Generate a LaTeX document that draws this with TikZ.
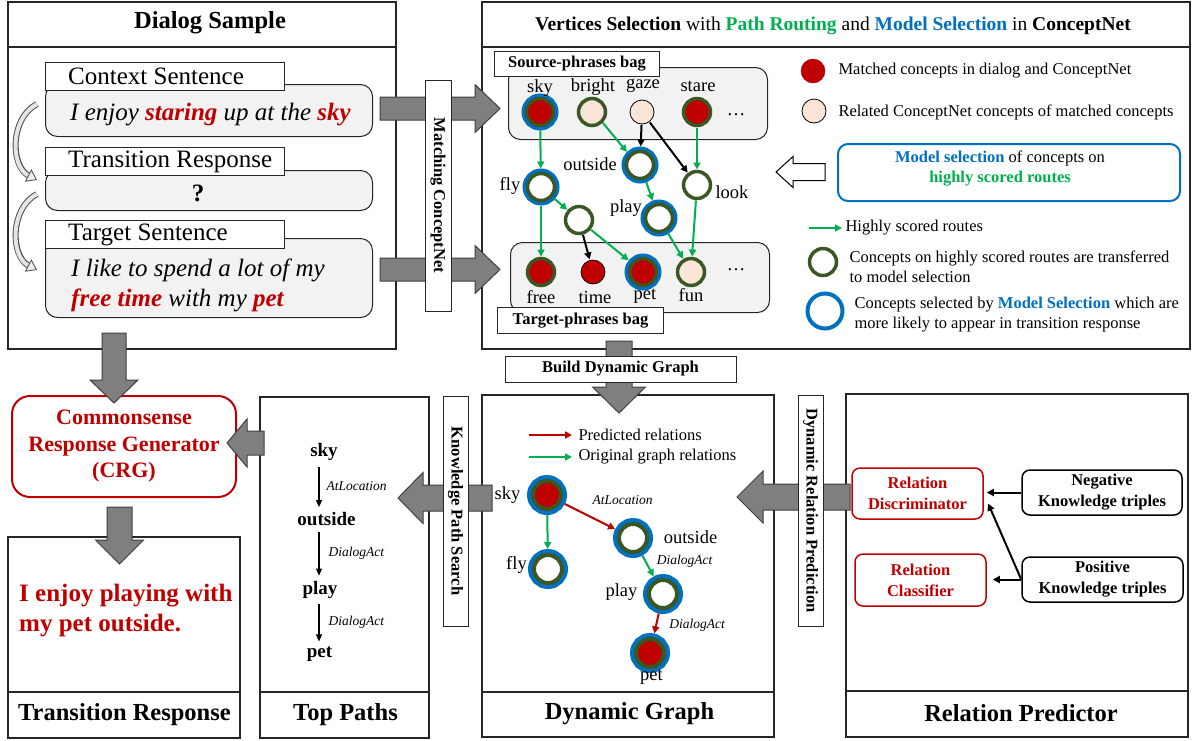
\documentclass[tikz,border=0pt]{standalone}
\usepackage{fontspec}
\setmainfont{Liberation Serif}
\usetikzlibrary{positioning, arrows.meta, calc}

\definecolor{cred}{HTML}{C00000}
\definecolor{cgreen}{HTML}{00B050}
\definecolor{cblue}{HTML}{0070C0}
\definecolor{cdkgreen}{HTML}{3A5724}
\definecolor{cpeach}{HTML}{FBE5D6}
\definecolor{cbag}{HTML}{F2F2F2}
\definecolor{cgrayarr}{HTML}{7F7F7F}
\definecolor{cgrayedge}{HTML}{404040}

\tikzstyle{panel} = [draw=black!85, line width=1.2pt]
\tikzstyle{ptitle} = [font=\fontsize{24.5}{28}\selectfont\bfseries]
\tikzstyle{bigtext} = [font=\fontsize{25}{30}\selectfont]
\tikzstyle{smalltext} = [font=\fontsize{16.5}{20}\selectfont]
\tikzstyle{smallb} = [font=\fontsize{16.5}{21}\selectfont\bfseries]
\tikzstyle{nlabel} = [font=\fontsize{18.5}{22}\selectfont, inner sep=1pt]
\tikzstyle{rellbl} = [font=\fontsize{13.5}{16}\selectfont\itshape, inner sep=1pt]
\tikzstyle{lblbox} = [rectangle, draw=black!85, line width=1pt, fill=white, minimum width=239pt, minimum height=28pt, inner sep=0pt]
\tikzstyle{lbltext} = [anchor=west, xshift=23pt, bigtext, inner sep=0pt]
\tikzstyle{sentbox} = [rectangle, draw=black!85, line width=1pt, fill=cbag, rounded corners=12pt, minimum width=327pt, inner sep=0pt]
\tikzstyle{bagbox} = [rectangle, draw=black!85, line width=1pt, fill=cbag, rounded corners=12pt, inner sep=0pt]
\tikzstyle{bagtitle} = [rectangle, draw=black!85, line width=1pt, fill=white, smallb, inner sep=0pt]
\tikzstyle{vlabel} = [rectangle, draw=black!85, fill=white, line width=1pt, rotate=-90, minimum height=25pt, inner sep=0pt, smallb]
\tikzstyle{blockarr} = [fill=cgrayarr, draw=cgrayedge, line width=1pt]
\tikzstyle{hollowarr} = [fill=white, draw=black, line width=1pt]
\tikzstyle{gring} = [circle, draw=cdkgreen, line width=3.5pt, minimum size=27pt, inner sep=0pt, outer sep=2pt, fill=white]
\tikzstyle{bring} = [gring, preaction={draw=cblue, line width=10pt}, outer sep=5pt]
\tikzstyle{dgring} = [circle, draw=cdkgreen, line width=4pt, minimum size=28pt, inner sep=0pt, fill=white, preaction={draw=cblue, line width=12pt}, outer sep=6pt]
\tikzstyle{matched} = [circle, fill=cred, draw=black, line width=0.7pt, minimum size=24pt, inner sep=0pt, outer sep=1pt]
\tikzstyle{related} = [circle, fill=cpeach, draw=black, line width=0.8pt, minimum size=24pt, inner sep=0pt, outer sep=1pt]
\tikzstyle{garrow} = [draw=cgreen, line width=2pt, -{Triangle[length=7pt,width=7pt]}]
\tikzstyle{karrow} = [draw=black, line width=2pt, -{Triangle[length=7pt,width=7pt]}]
\tikzstyle{rarrow} = [draw=cred, line width=2pt, -{Triangle[length=7pt,width=7pt]}]
\tikzstyle{tparrow} = [draw=black, line width=1.3pt, -{Triangle[length=7pt,width=6pt]}, shorten <=4pt, shorten >=3pt]
\tikzstyle{redbox} = [rectangle, rounded corners=8pt, draw=cred, line width=1.5pt, text=cred, align=center, smallb]
\tikzstyle{kbox} = [rectangle, rounded corners=8pt, draw=black, line width=1.5pt, align=center, smallb]
\tikzstyle{curvout} = [line width=6pt, draw=gray!60!black, shorten >=9pt]
\tikzstyle{curvin} = [line width=4pt, draw=gray!20, -{Triangle[length=10pt,width=14pt,fill=gray!15,color=gray!60!black,line width=0.8pt]}]

\newcommand{\blockarrow}[6][blockarr]{%
  \path ($(#3)!#6!(#2)$) coordinate (ba-h);
  \draw [#1] ($(#2)!#4!90:(#3)$) -- ($(ba-h)!#4!90:(#3)$) -- ($(ba-h)!#5!90:(#3)$) -- (#3)
    -- ($(ba-h)!#5!-90:(#3)$) -- ($(ba-h)!#4!-90:(#3)$) -- ($(#2)!#4!-90:(#3)$) -- cycle;
}

\begin{document}
\begin{tikzpicture}[x=1pt, y=-1pt]
\useasboundingbox (0,0) rectangle (1194,740);
\fill [white] (0,0) rectangle (1194,740);

\draw [panel] (8,2) rectangle (396,349);
\draw [panel] (8,47) -- (396,47);
\node (dlgtitle) [ptitle] at (210,23) {Dialog Sample};

\draw [panel] (482,2) rectangle (1190,349);
\draw [panel] (482,47) -- (1190,47);
\node (vstitle) [font=\fontsize{19.5}{23}\selectfont] at (833,26) {\textbf{Vertices Selection} with \textbf{\textcolor{cgreen}{Path Routing}} and \textbf{\textcolor{cblue}{Model Selection}} in \textbf{ConceptNet}};

\draw [panel] (8,537) rectangle (240,738);
\draw [panel] (8,692) -- (240,692);
\node (trtitle) [ptitle] at (124.5,715) {Transition Response};

\draw [panel] (260,397) rectangle (429,738);
\draw [panel] (260,692) -- (429,692);
\node (tptitle) [ptitle] at (345.5,715) {Top Paths};

\draw [panel] (482,395) rectangle (774,737);
\draw [panel] (482,692) -- (774,692);
\node (dgtitle) [ptitle] at (629.5,714) {Dynamic Graph};

\draw [panel] (846,394) rectangle (1188,737);
\draw [panel] (846,691) -- (1188,691);
\node (rptitle) [ptitle] at (1021,713) {Relation Predictor};

\node (ctxbox) [sentbox, anchor=north west, minimum height=52pt] at (45,84) {};
\node (ctxlbl) [lblbox, anchor=north west, label={[lbltext]west:Context Sentence}] at (45,62) {};
\node (ctxtext) [bigtext, anchor=west, inner sep=0pt] at (70,115) {\textit{I enjoy \textbf{\textcolor{cred}{staring}} up at the \textbf{\textcolor{cred}{sky}}}};

\node (trbox) [sentbox, anchor=north west, minimum height=40pt] at (45,170) {};
\node (trlbl) [lblbox, anchor=north west, label={[lbltext]west:Transition Response}] at (45,147) {};
\node (trq) [font=\fontsize{25}{30}\selectfont\bfseries] at (198,193) {?};

\node (tgtbox) [sentbox, anchor=north west, minimum height=79pt] at (45,238) {};
\node (tgtlbl) [lblbox, anchor=north west, label={[lbltext]west:Target Sentence}] at (45,220) {};
\node (tgttext) [bigtext, anchor=west, align=left, inner sep=0pt] at (71,285) {\textit{I like to spend a lot of my}\\\textit{\textbf{\textcolor{cred}{free time}} with my \textbf{\textcolor{cred}{pet}}}};

\foreach \ya/\yb in {104/180, 194/270} {
  \draw [curvout] (37,\ya) .. controls (10,\ya+14) and (10,\yb-14) .. (37,\yb);
  \draw [curvin] (37,\ya) .. controls (10,\ya+14) and (10,\yb-14) .. (37,\yb);
}

\node (srcbag) [bagbox, anchor=north west, minimum width=259pt, minimum height=72pt] at (508,67) {};
\node (srclbl) [bagtitle, anchor=north west, minimum width=165pt, minimum height=25pt] at (494,51) {Source-phrases bag};
\node (tgtbag) [bagbox, anchor=north west, minimum width=259pt, minimum height=70pt] at (510,242) {};
\node (tgtbaglbl) [bagtitle, anchor=north west, minimum width=166pt, minimum height=26pt] at (497,307) {Target-phrases bag};

\node (sky) [bring, fill=cred] at (540,112) {};
\node (bright) [gring, fill=cpeach] at (592,112) {};
\node (gaze) [related] at (642,112) {};
\node (stare) [gring, fill=cred] at (697,112) {};
\node (srcdots) [nlabel] at (736,115) {\dots};
\node (skyl) [nlabel] at (540,88) {sky};
\node (brightl) [nlabel] at (593,87) {bright};
\node (gazel) [nlabel] at (643,86) {gaze};
\node (starel) [nlabel] at (698,86) {stare};

\node (outside) [bring] at (640,165) {};
\node (fly) [bring] at (541,187) {};
\node (look) [gring] at (697,185) {};
\node (mid) [gring] at (579,220) {};
\node (play) [bring] at (659,218) {};
\node (outsidel) [nlabel] at (590,164) {outside};
\node (flyl) [nlabel] at (510,186) {fly};
\node (lookl) [nlabel] at (732,192) {look};
\node (playl) [nlabel] at (626,208) {play};

\node (free) [gring, fill=cred] at (541,272) {};
\node (time) [matched] at (593,272) {};
\node (pet) [bring, fill=cred] at (643,272) {};
\node (fun) [gring, fill=cpeach] at (691,272) {};
\node (tgtdots) [nlabel] at (736,270) {\dots};
\node (freel) [nlabel] at (541,297) {free};
\node (timel) [nlabel] at (595,297) {time};
\node (petl) [nlabel] at (645,296) {pet};
\node (funl) [nlabel] at (691,295) {fun};

\draw [garrow] (sky) -- (fly);
\draw [garrow] (bright.south east) -- (outside.north west);
\draw [karrow] (gaze) -- (outside);
\draw [karrow] (gaze) -- (look);
\draw [garrow] (stare) -- (look);
\draw [garrow] (fly) -- (mid);
\draw [garrow] (fly) -- (free);
\draw [karrow] (mid) -- (time);
\draw [garrow] (mid) -- (pet);
\draw [garrow] (outside) -- (play);
\draw [garrow] (play) -- (fun);
\draw [garrow] (look) -- (fun);

\node (lgmatch) [circle, fill=cred, draw=cred!80!black, minimum size=24pt, inner sep=0pt] at (813,71) {};
\node (lgmatcht) [smalltext, anchor=west] at (835,71) {Matched concepts in dialog and ConceptNet};
\node (lgrel) [related] at (814,111) {};
\node (lgrelt) [smalltext, anchor=west] at (835,112) {Related ConceptNet concepts of matched concepts};
\node (msel) [rectangle, rounded corners=10pt, draw=cblue, line width=2pt, minimum width=342pt, minimum height=57pt] at (1009,172.5) {};
\node (mseltext) [smalltext, align=center] at (1000,169) {\textbf{\textcolor{cblue}{Model selection}} of concepts on\\\textbf{\textcolor{cgreen}{highly scored routes}}};
\coordinate (lgas) at (809,228);
\coordinate (lgae) at (842,228);
\draw [garrow] (lgas) -- (lgae);
\node (lgarrowt) [smalltext, anchor=west] at (lgae) {Highly scored routes};
\node (lggreen) [gring] at (823,262) {};
\node (lggreent) [smalltext, anchor=west, align=left] at (846,267) {Concepts on highly scored routes are transferred\\to model selection};
\node (lgblue) [circle, draw=cblue, line width=4pt, minimum size=35pt, inner sep=0pt] at (825,311) {};
\node (lgbluet) [smalltext, anchor=west, align=left] at (851,315) {Concepts selected by \textbf{\textcolor{cblue}{Model Selection}} which are\\more likely to appear in transition response};

\node (crg) [redbox, rounded corners=18pt, line width=2pt, minimum width=224pt, minimum height=101pt, font=\fontsize{22}{26.5}\selectfont\bfseries] at (124,446.5) {Commonsense\\Response Generator\\(CRG)};
\node (trout) [anchor=west, align=left, text=cred, font=\fontsize{25}{30}\selectfont\bfseries, inner sep=0pt] at (19,611) {I enjoy playing with\\my pet outside.};

\coordinate (tpx) at (319,0);
\tikzstyle{pathword} = [font=\fontsize{19}{22}\selectfont\bfseries, inner sep=2pt]
\node (tsky) [pathword] at (324,452) {sky};
\node (tout) [pathword] at (326.5,519) {outside};
\node (tplay) [pathword] at (320,589.5) {play};
\node (tpet) [pathword] at (319.5,654) {pet};
\draw [tparrow] (tsky.south -| tpx) -- node [rellbl, anchor=west, xshift=6pt] {AtLocation} (tout.north -| tpx);
\draw [tparrow] (tout.south -| tpx) -- node [rellbl, anchor=west, xshift=8pt] {DialogAct} (tplay.north -| tpx);
\draw [tparrow] (tplay.south -| tpx) -- node [rellbl, anchor=west, xshift=8pt] {DialogAct} (tpet.north -| tpx);

\coordinate (dlrs) at (529,435);
\coordinate (dlre) at (572,435);
\coordinate (dlgs) at (529,457);
\coordinate (dlge) at (572,457);
\draw [rarrow] (dlrs) -- (dlre);
\draw [garrow] (dlgs) -- (dlge);
\node (dlrt) [smalltext, anchor=west] at (575,435) {Predicted relations};
\node (dlgt) [smalltext, anchor=west] at (575,457) {Original graph relations};

\node (dsky) [dgring, fill=cred] at (547,495) {};
\node (dout) [dgring] at (633,538) {};
\node (dfly) [dgring] at (548,569) {};
\node (dplay) [dgring] at (663,594) {};
\node (dpet) [dgring, fill=cred] at (650,653) {};
\node (dskyl) [nlabel] at (507.5,495) {sky};
\node (doutl) [nlabel] at (690.5,537) {outside};
\node (dflyl) [nlabel] at (516.5,565) {fly};
\node (dplayl) [nlabel] at (621.5,592.5) {play};
\node (dpetl) [nlabel] at (651.5,677.5) {pet};
\draw [garrow] (dsky) -- (dfly);
\draw [rarrow] (dsky) -- (dout);
\draw [garrow] (dout) -- (dplay);
\draw [rarrow] (dplay) -- (dpet);
\node (atloc) [rellbl] at (622.5,500.5) {AtLocation};
\node (dact1) [rellbl] at (684.5,561.5) {DialogAct};
\node (dact2) [rellbl] at (697,625.5) {DialogAct};

\node (disc) [redbox, minimum width=131pt, minimum height=51pt] at (917.5,493.5) {Relation\\Discriminator};
\node (cls) [redbox, minimum width=131pt, minimum height=52pt] at (920.5,580) {Relation\\Classifier};
\node (neg) [kbox, minimum width=160pt, minimum height=45pt] at (1102,492.5) {Negative\\Knowledge triples};
\node (pos) [kbox, minimum width=161pt, minimum height=45pt] at (1102.5,579.5) {Positive\\Knowledge triples};
\draw [karrow, shorten >=3pt] (neg.west) -- (neg.west -| disc.east);
\draw [karrow, shorten >=11pt] (pos.west) -- (disc.east);
\draw [karrow, shorten >=6pt] (pos.west) -- (pos.west -| cls.east);

\coordinate (m1s) at (380,108.5);
\coordinate (m1e) at (500,108.5);
\coordinate (m2s) at (380,269.5);
\coordinate (m2e) at (500,269.5);
\coordinate (d1s) at (114,333);
\coordinate (d1e) at (114,403);
\coordinate (c1s) at (119.5,507);
\coordinate (c1e) at (119.5,564);
\coordinate (t1s) at (264,443);
\coordinate (t1e) at (227,443);
\coordinate (g1s) at (492,498);
\coordinate (g1e) at (398,498);
\coordinate (r1s) at (850,497);
\coordinate (r1e) at (737,497);
\coordinate (b1s) at (619,341);
\coordinate (b1e) at (619,413);
\coordinate (h1s) at (825,172);
\coordinate (h1e) at (776,172);
\blockarrow{m1s}{m1e}{11.5pt}{24pt}{25pt}
\blockarrow{m2s}{m2e}{11.5pt}{24pt}{25pt}
\blockarrow{d1s}{d1e}{12pt}{24pt}{23pt}
\blockarrow{c1s}{c1e}{12.5pt}{24pt}{24pt}
\blockarrow{t1s}{t1e}{12pt}{24pt}{20pt}
\blockarrow{g1s}{g1e}{13pt}{25.5pt}{25pt}
\blockarrow{r1s}{r1e}{13pt}{26pt}{26pt}
\blockarrow{b1s}{b1e}{13pt}{26.5pt}{26pt}
\blockarrow[hollowarr]{h1s}{h1e}{8.5pt}{15.5pt}{17pt}

\node (match) [vlabel, minimum width=231pt, minimum height=26pt] at (438,195.5) {Matching ConceptNet};
\node (kps) [vlabel, minimum width=230pt] at (455.5,511) {Knowledge Path Search};
\node (drp) [vlabel, minimum width=231pt] at (810.5,510.5) {Dynamic Relation Prediction};
\node (build) [bagtitle, minimum width=231pt, minimum height=26pt] at (620.5,369) {Build Dynamic Graph};
\end{tikzpicture}
\end{document}
